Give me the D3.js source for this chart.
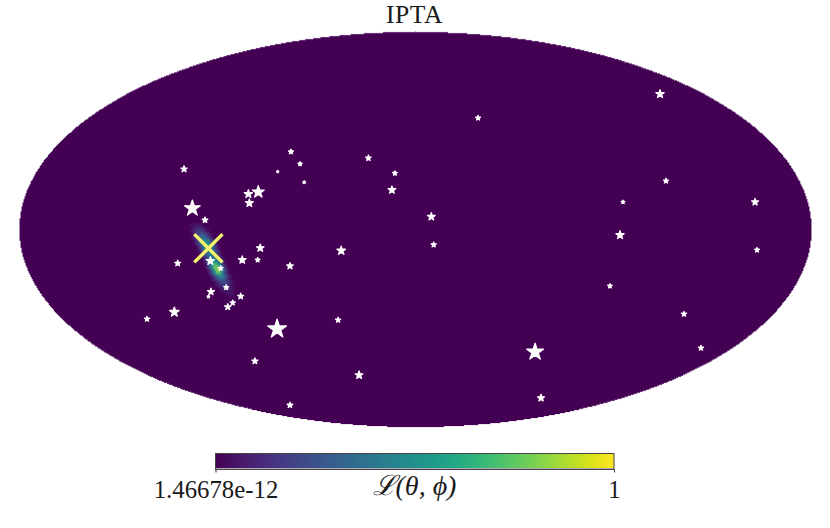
<!DOCTYPE html>
<html><head><meta charset="utf-8">
<style>html,body{margin:0;padding:0;background:#fff}svg{display:block}text{fill:#1a1a1a}</style>
<script src="https://cdn.jsdelivr.net/npm/d3@7"></script></head><body>
<script>
const title = "IPTA";
const colorbarTicks = ["1.46678e-12", "1"];
const colorbarLabel = "ℒ(θ, ϕ)";
// pulsar positions in the Mollweide plane (x -2..2, y -1..1), and relative marker weight
const pulsarX = [1.235,0.316,-0.629,-1.169,-0.583,-0.238,-0.104,-0.696,-0.562,-0.119,-0.794,-0.844,-0.839,1.265,1.048,1.715,-1.127,-1.063,0.080,1.033,0.092,1.725,-0.784,-0.375,-0.875,-0.797,-1.036,-1.201,-0.984,-0.634,-0.956,-1.033,-1.046,-0.883,-0.923,-0.948,0.982,-1.218,-1.356,1.356,-0.391,-0.699,1.442,0.604,-0.811,-0.285,-0.634,0.634];
const pulsarY = [0.686,0.565,0.394,0.306,0.332,0.362,0.285,0.293,0.239,0.200,0.190,0.180,0.134,0.246,0.139,0.139,0.107,0.048,0.065,-0.028,-0.077,-0.104,-0.094,-0.107,-0.154,-0.154,-0.159,-0.171,-0.196,-0.185,-0.293,-0.315,-0.340,-0.338,-0.371,-0.392,-0.286,-0.418,-0.453,-0.428,-0.458,-0.504,-0.600,-0.620,-0.666,-0.737,-0.889,-0.853];
const pulsarWeight = [4.3,2.6,2.6,3.3,2.2,3,2.4,1.2,1.6,4,6.3,4.3,4.1,2.7,1.9,3.6,8.3,3,4,4.3,2.7,2.5,4,4.5,4,2.4,4.3,3.1,2.5,3.4,2.6,3.6,1.5,3.1,2.7,3.3,2.4,5,2.7,2.7,2.7,9.8,2.7,8.8,3.2,4.1,3,3.7];
const sourceX = [-1.046];
const sourceY = [-0.095];
// likelihood: plane y of each row, plane x of first cell, cell values
const cellStep = 0.0152;
const rowY = [0.028,0.013,-0.002,-0.017,-0.032,-0.048,-0.063,-0.078,-0.093,-0.108,-0.124,-0.139,-0.154,-0.169,-0.184,-0.200,-0.215,-0.230,-0.245,-0.260,-0.276,-0.291,-0.306,-0.321,-0.336];
const rowX = [-1.159,-1.144,-1.144,-1.129,-1.129,-1.114,-1.114,-1.099,-1.099,-1.086,-1.086,-1.072,-1.072,-1.060,-1.060,-1.048,-1.048,-1.033,-1.033,-1.018,-1.018,-1.003,-1.003,-0.987,-0.987];
const cellValues = [
 [0,.03,.05,.07,.05,.02,0],[.01,.05,.09,.12,.08,.04,.01],[.02,.09,.16,.19,.14,.07,.02],
 [.05,.14,.23,.27,.21,.11,.03],[.08,.19,.31,.36,.29,.16,.05],[.1,.24,.39,.46,.37,.2,.07],
 [.11,.27,.46,.54,.44,.24,.08],[.11,.28,.47,.54,.45,.25,.08],[.1,.26,.43,.5,.42,.23,.08],
 [.09,.23,.38,.45,.38,.21,.07],[.07,.2,.34,.42,.35,.19,.06],[.07,.2,.36,.44,.37,.19,.06],
 [.08,.23,.43,.54,.44,.22,.07],[.08,.27,.53,.69,.53,.25,.07],[.09,.29,.6,.84,.6,.27,.07],
 [.09,.3,.62,.9,.61,.27,.07],[.08,.26,.51,.74,.51,.23,.06],[.07,.2,.38,.52,.38,.18,.05],
 [.05,.15,.27,.35,.26,.13,.04],[.03,.11,.19,.24,.18,.09,.03],[.02,.08,.13,.17,.12,.06,.02],
 [.01,.05,.09,.12,.08,.04,.01],[0,.03,.06,.08,.05,.02,0],[0,.01,.03,.05,.03,.01,0],[0,0,.01,.02,.01,0,0]
];

const W = 830, H = 528;
const x = d3.scaleLinear().domain([-2,2]).range([19.5,811.5]);
const y = d3.scaleLinear().domain([-1,1]).range([427,32]);
const color = d3.scaleSequential(d3.interpolateViridis).domain([0,1]);
const size = d3.scaleLinear().domain([0,1]).range([0,1]);

const svg = d3.select("body").append("svg").attr("width",W).attr("height",H);
const defs = svg.append("defs");

// map disc with a finely stepped, pixelised outline
const step = 0.0051;
const ys = d3.range(-1, 1, step);
const half = v => Math.round(2*Math.sqrt(Math.max(0,1-v*v))/step)*step;
const right = [], left = [];
ys.forEach(v => {
  const h = half(Math.min(1, Math.abs(v+step/2)));
  right.push([x(h),y(v)],[x(h),y(v+step)]);
  left.push([x(-h),y(v)],[x(-h),y(v+step)]);
});
svg.append("path").attr("d", d3.line()(right.concat(left.reverse()))+"Z")
  .attr("fill", color(0)).attr("stroke", color(0)).attr("stroke-opacity",.35).attr("stroke-width",.6);

// likelihood cells
const cellW = x(cellStep)-x(0), cellH = y(0)-y(cellStep);
defs.append("filter").attr("id","soft").attr("x","-20%").attr("y","-20%").attr("width","140%").attr("height","140%")
  .append("feGaussianBlur").attr("stdDeviation",0.8);
const cells = rowY.flatMap((ry,i)=>cellValues[i].map((v,j)=>({x: rowX[i]+j*cellStep, y: ry, v})));
svg.append("g").attr("filter","url(#soft)").selectAll("rect").data(cells).join("rect")
  .attr("x",d=>x(d.x)-0.25).attr("y",d=>y(d.y)-0.25)
  .attr("width",cellW+0.5).attr("height",cellH+0.5)
  .attr("fill",d=>color(d.v));

// pulsars
const star = r => d3.symbol(d3.symbolStar, r*r/0.89081)();
svg.append("g").selectAll("path").data(pulsarX.map((px,i)=>({x:px,y:pulsarY[i],w:pulsarWeight[i]}))).join("path")
  .attr("transform",d=>`translate(${x(d.x)},${y(d.y)})`)
  .attr("d",d=>star(size(d.w)))
  .attr("fill","#fff").attr("stroke","#fff").attr("stroke-width",1.3).attr("stroke-linejoin","round");

// source cross
svg.append("g").selectAll("path").data(sourceX.map((px,i)=>({x:px,y:sourceY[i]}))).join("path")
  .attr("transform",d=>`translate(${x(d.x)},${y(d.y)})`)
  .attr("d",d3.symbol(d3.symbolX,523)())
  .attr("fill","none").attr("stroke","#f8f56c").attr("stroke-width",3.4);

// title
svg.append("text").attr("x",414.5).attr("y",23).attr("text-anchor","middle").attr("letter-spacing",0.6)
  .attr("font-family","'Liberation Serif',serif").attr("font-size",25.6).text(title);

// colour bar
const grad = defs.append("linearGradient").attr("id","vir");
d3.range(0,1.001,0.05).forEach(t=>grad.append("stop").attr("offset",t).attr("stop-color",d3.interpolateViridis(t)));
const cb = d3.scaleLinear().domain([0,1]).range([215.5,614]);
svg.append("rect").attr("x",cb(0)).attr("y",454).attr("width",cb(1)-cb(0)).attr("height",14).attr("fill","url(#vir)");
svg.append("rect").attr("x",cb(0)).attr("y",468).attr("width",cb(1)-cb(0)).attr("height",1.4).attr("fill","#b9a9bd");
svg.append("rect").attr("x",cb(0)).attr("y",453.5).attr("width",cb(1)-cb(0)).attr("height",16).attr("fill","none").attr("stroke","#444").attr("stroke-width",1);
const axis = d3.axisBottom(cb).tickValues([0,1]).tickFormat((d,i)=>colorbarTicks[i]).tickSize(3).tickPadding(4);
const ag = svg.append("g").attr("transform","translate(0,469.5)").call(axis);
ag.select(".domain").remove();
ag.selectAll("line").attr("stroke","#333");
ag.selectAll("text").attr("font-family","'Liberation Serif',serif").attr("font-size",24.8).attr("fill","#1a1a1a").attr("dy",null).attr("y",28);
svg.append("text").attr("x",414.5).attr("y",495).attr("text-anchor","middle")
  .attr("font-family","'Liberation Serif',serif").attr("font-style","italic").attr("font-size",28).text(colorbarLabel);
</script></body></html>
